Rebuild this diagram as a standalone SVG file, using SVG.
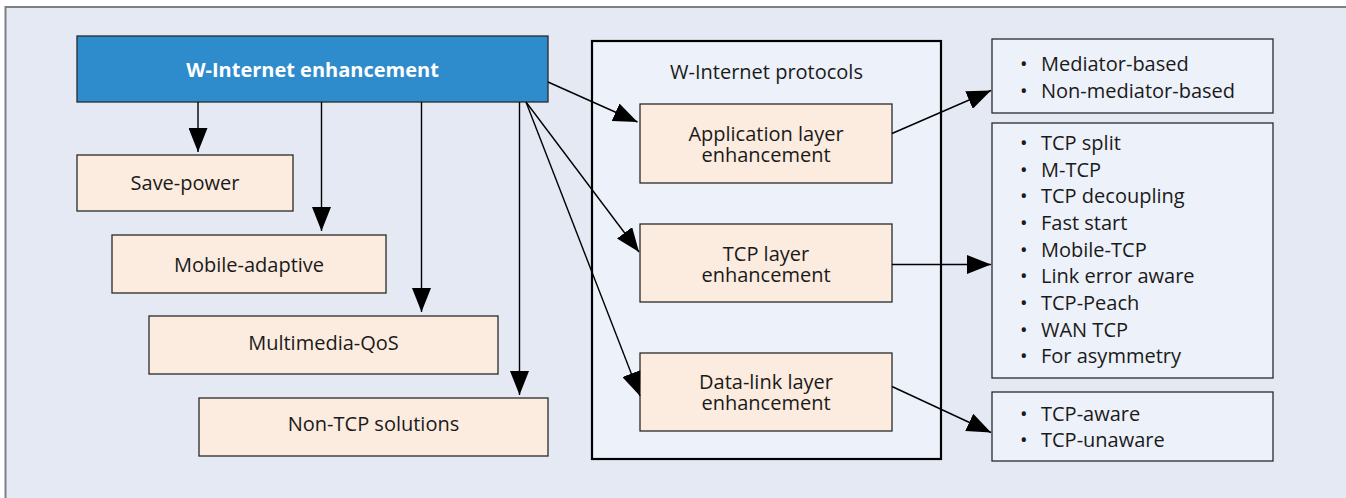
<svg xmlns="http://www.w3.org/2000/svg" width="1346" height="498" viewBox="0 0 1346 498">
<defs>
<marker id="ah" viewBox="0 0 24 19" refX="24" refY="9.5" markerWidth="24" markerHeight="19" orient="auto" markerUnits="userSpaceOnUse">
<path d="M0,0 L24,9.5 L0,19 z" fill="#000"/>
</marker>
<style>
text{font-family:"Open Sans","Liberation Sans",sans-serif;font-size:20px;fill:#1a1a1a}
.c{text-anchor:middle}
.node{fill:#fcebdf;stroke:#2a2a2a;stroke-width:1.3}
.list{fill:#edf1f9;stroke:#2a2a2a;stroke-width:1.3}
.ln{stroke:#000;stroke-width:1.4;fill:none;marker-end:url(#ah)}
</style>
</defs>
<rect x="0" y="0" width="1346" height="498" fill="#fff"/>
<rect id="panel" x="5.5" y="7" width="1400" height="600" fill="#e4e9f4" stroke="#808080" stroke-width="2"/>

<g id="protocols">
<rect x="592" y="41" width="349" height="418" fill="#edf1f9" stroke="#000" stroke-width="2.2"/>
<text class="c" x="766.5" y="79">W-Internet protocols</text>
</g>

<g id="enhancement">
<rect x="77" y="36" width="471" height="66" fill="#2f8ccc" stroke="#2a2a2a" stroke-width="1.3"/>
<text class="c" x="312.5" y="76.5" style="fill:#fff;font-weight:700">W-Internet enhancement</text>
</g>

<g id="save-power">
<rect class="node" x="77" y="155" width="216" height="56"/>
<text class="c" x="185" y="190">Save-power</text>
</g>
<g id="mobile-adaptive">
<rect class="node" x="112" y="235" width="274" height="58"/>
<text class="c" x="249" y="271.5">Mobile-adaptive</text>
</g>
<g id="multimedia-qos">
<rect class="node" x="149" y="316" width="349" height="58"/>
<text class="c" x="323.5" y="349.5">Multimedia-QoS</text>
</g>
<g id="non-tcp">
<rect class="node" x="199" y="398" width="349" height="58"/>
<text class="c" x="373.5" y="431">Non-TCP solutions</text>
</g>

<g id="app-layer">
<rect class="node" x="640" y="104" width="252" height="79"/>
<text class="c" x="766" y="141">Application layer<tspan x="766" dy="21">enhancement</tspan></text>
</g>
<g id="tcp-layer">
<rect class="node" x="640" y="224" width="252" height="78"/>
<text class="c" x="766" y="260.5">TCP layer<tspan x="766" dy="21">enhancement</tspan></text>
</g>
<g id="datalink-layer">
<rect class="node" x="640" y="353" width="252" height="78"/>
<text class="c" x="766" y="388.5">Data-link layer<tspan x="766" dy="21">enhancement</tspan></text>
</g>

<g id="app-list">
<rect class="list" x="992" y="39" width="281" height="74"/>
<text x="1020" y="71">•<tspan x="1041">Mediator-based</tspan></text>
<text x="1020" y="97.7">•<tspan x="1041">Non-mediator-based</tspan></text>
</g>
<g id="tcp-list">
<rect class="list" x="992" y="123" width="281" height="255"/>
<text x="1020" y="150">•<tspan x="1041">TCP split</tspan></text>
<text x="1020" y="176.7">•<tspan x="1041">M-TCP</tspan></text>
<text x="1020" y="203.3">•<tspan x="1041">TCP decoupling</tspan></text>
<text x="1020" y="230">•<tspan x="1041">Fast start</tspan></text>
<text x="1020" y="256.7">•<tspan x="1041">Mobile-TCP</tspan></text>
<text x="1020" y="283.3">•<tspan x="1041">Link error aware</tspan></text>
<text x="1020" y="310">•<tspan x="1041">TCP-Peach</tspan></text>
<text x="1020" y="336.7">•<tspan x="1041">WAN TCP</tspan></text>
<text x="1020" y="363.3">•<tspan x="1041">For asymmetry</tspan></text>
</g>
<g id="datalink-list">
<rect class="list" x="992" y="392" width="281" height="69"/>
<text x="1020" y="420.7">•<tspan x="1041">TCP-aware</tspan></text>
<text x="1020" y="447.3">•<tspan x="1041">TCP-unaware</tspan></text>
</g>

<g id="connectors">
<line class="ln" x1="198" y1="102" x2="198" y2="152"/>
<line class="ln" x1="321.5" y1="102" x2="321.5" y2="231"/>
<line class="ln" x1="421.5" y1="102" x2="421.5" y2="312"/>
<line class="ln" x1="519.5" y1="102" x2="519.5" y2="395"/>
<line class="ln" x1="548" y1="82" x2="637.5" y2="122"/>
<line class="ln" x1="526" y1="102" x2="639" y2="252"/>
<line class="ln" x1="526" y1="102" x2="640" y2="396"/>
<line class="ln" x1="892" y1="133.5" x2="991" y2="90.5"/>
<line class="ln" x1="892" y1="264.5" x2="991" y2="264.5"/>
<line class="ln" x1="892" y1="386.5" x2="991" y2="432.5"/>
</g>
</svg>
